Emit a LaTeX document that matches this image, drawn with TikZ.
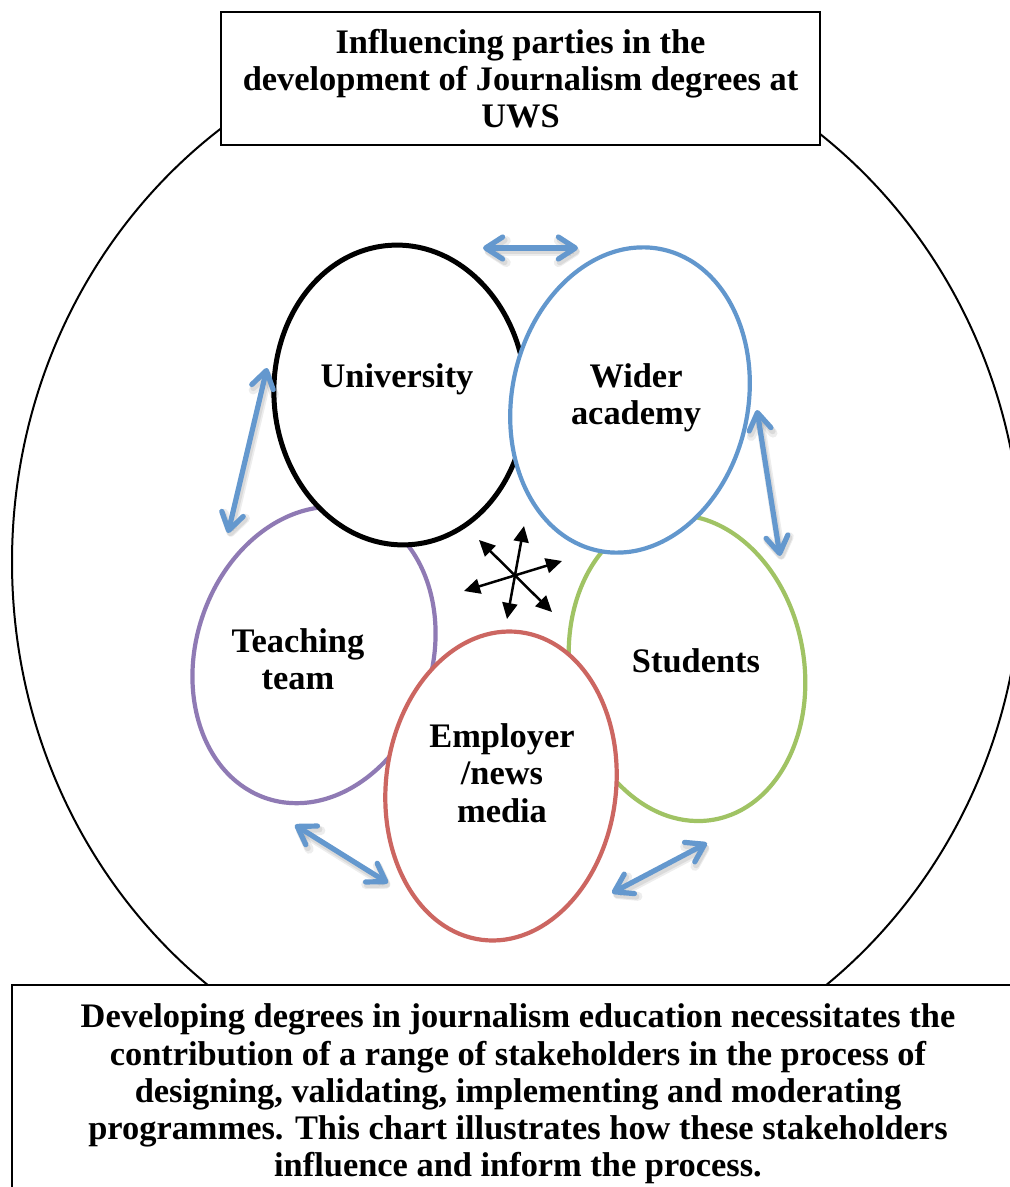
\documentclass[tikz,border=0pt]{standalone}
\usepackage{fontspec}
\setmainfont{Liberation Serif}
\usetikzlibrary{arrows.meta,shapes.geometric}

\definecolor{wideblue}{RGB}{98,151,205}
\definecolor{stugreen}{RGB}{160,195,100}
\definecolor{empred}{RGB}{204,102,97}
\definecolor{teachpurple}{RGB}{143,122,180}
\definecolor{linkblue}{RGB}{100,152,206}

\begin{document}
\begin{tikzpicture}[x=0.5pt,y=-0.5pt,
  party/.style={ellipse, draw, fill=white, line width=2.1pt, inner sep=0pt},
  lbl/.style={font=\bfseries\fontsize{17.2pt}{18.75pt}\selectfont, align=center, inner sep=0pt},
  panel/.style={draw, fill=white, line width=1pt, inner sep=0pt, align=center,
    font=\bfseries\fontsize{17.2pt}{18.6pt}\selectfont},
  link/.style={draw=linkblue, line width=2.6pt, line cap=round,
    >={Straight Barb[length=8.5pt,width=11pt,round]}, <->,
    preaction={draw=black, draw opacity=0.07, line width=4.5pt,
      transform canvas={shift={(0.9pt,-1.8pt)}}},
    preaction={draw=black, draw opacity=0.08, line width=3pt,
      transform canvas={shift={(0.8pt,-1.6pt)}}}},
  flow/.style={draw=black, line width=1.25pt, >={Triangle[length=8pt,width=7.5pt]}, <->}
]
\useasboundingbox (0,0) rectangle (1010,1187);
\clip (0,0) rectangle (1010,1187);
\fill[white] (0,0) rectangle (1010,1187);

% surrounding frame of the whole process
\node[ellipse, draw, line width=1pt, inner sep=0pt,
      minimum width=505pt, minimum height=535pt] (arena) at (517,562) {};

% the five stakeholder ellipses (stacking order matters)
\node[party, draw=teachpurple, minimum width=118pt, minimum height=151pt, rotate=-18] (teach) at (314,655) {};
\node[party, draw=stugreen, minimum width=117pt, minimum height=154pt, rotate=10] (stud) at (687,668) {};
\node[party, draw=black, line width=2.5pt, minimum width=126pt, minimum height=150pt, rotate=4] (uni) at (400,395) {};
\node[party, draw=wideblue, minimum width=118pt, minimum height=154pt, rotate=-12] (wide) at (630,400) {};
\node[party, draw=empred, minimum width=115pt, minimum height=155pt, rotate=-7] (emp) at (501,786) {};

% labels
\node[lbl] (unitxt) at (397,379) {University};
\node[lbl] (widetxt) at (636,398) {Wider\\academy};
\node[lbl] (teachtxt) at (298,659) {Teaching\\team};
\node[lbl] (studtxt) at (696,661) {Students};
\node[lbl] (emptxt) at (502,773) {Employer\\/news\\media};

% two-way links between neighbouring parties
\coordinate (l1a) at (483,248); \coordinate (l1b) at (578,248);
\coordinate (l2a) at (267,368); \coordinate (l2b) at (228,533);
\coordinate (l3a) at (757,410); \coordinate (l3b) at (780,556);
\coordinate (l4a) at (295,825); \coordinate (l4b) at (388,883);
\coordinate (l5a) at (612,893); \coordinate (l5b) at (707,843);
\draw[link] (l1a) -- (l1b);
\draw[link] (l2a) -- (l2b);
\draw[link] (l3a) -- (l3b);
\draw[link] (l4a) -- (l4b);
\draw[link] (l5a) -- (l5b);

% central exchange among all parties
\coordinate (hub) at (515,575);
\coordinate (fnw) at (479,540); \coordinate (fse) at (552,612);
\coordinate (fn) at (524,526);  \coordinate (fs) at (507,619);
\coordinate (fe) at (562,561);  \coordinate (fw) at (464,591);
\draw[flow] (fnw) -- (fse);
\draw[flow] (fn) -- (fs);
\draw[flow] (fw) -- (fe);

% heading and explanatory panel
\node[panel, minimum width=299.5pt, minimum height=66.5pt] (title) at (520.5,78.5)
  {Influencing parties in the\\development of Journalism degrees at\\UWS};
\node[panel, minimum width=506pt, minimum height=109pt] (note) at (518,1094)
  {Developing degrees in journalism education necessitates the\\
   contribution of a range of stakeholders in the process of\\
   designing, validating, implementing and moderating\\
   programmes. This chart illustrates how these stakeholders\\
   influence and inform the process.};
\end{tikzpicture}
\end{document}
